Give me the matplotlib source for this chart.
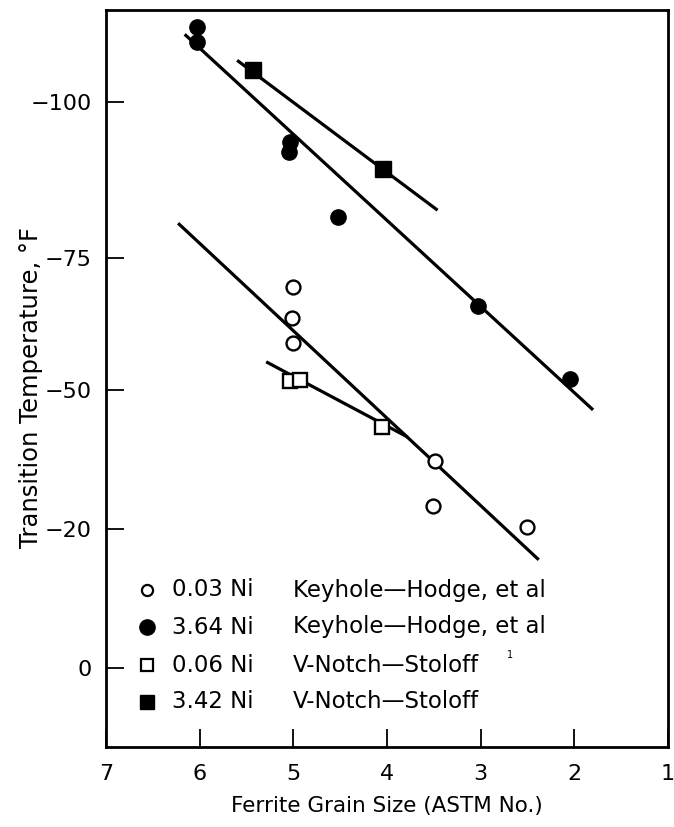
#!/usr/bin/env python3
import matplotlib.pyplot as plt

plt.rcParams['font.family'] = ['DejaVu Sans']

# Ablesewerte (Korngroesse ASTM, Uebergangstemperatur)
ni003_x = [5.0, 5.01, 5.0, 3.49, 3.51, 2.51]
ni003_y = [-67.3, -61.8, -57.4, -36.6, -28.6, -24.9]

ni364_x = [6.03, 6.03, 5.04, 5.05, 4.52, 3.03, 2.05]
ni364_y = [-113.3, -110.6, -92.9, -91.2, -79.7, -64.0, -51.1]

ni006_x = [5.04, 4.93, 4.05]
ni006_y = [-50.7, -50.9, -42.6]

ni342_x = [5.43, 4.04]
ni342_y = [-105.7, -88.2]

# Ausgleichsgeraden (Endpunkte)
fit003_x, fit003_y = [6.23, 2.38], [-78.6, -19.1]
fit364_x, fit364_y = [6.16, 1.80], [-112.0, -45.6]
fit342_x, fit342_y = [5.60, 3.46], [-107.4, -80.9]
fit006_x, fit006_y = [5.29, 3.78], [-54.1, -40.8]

xticks = [7, 6, 5, 4, 3, 2, 1]
# Lage der Teilstriche
yticks = [0, -24.6, -49.1, -72.4, -100]
ylabels = ['0', '\u221220', '\u221250', '\u221275', '\u2212100']

legend_names = ['0.03 Ni', '3.64 Ni', '0.06 Ni', '3.42 Ni']
legend_refs = ['Keyhole\u2014Hodge, et al', 'Keyhole\u2014Hodge, et al',
               'V-Notch\u2014Stoloff', 'V-Notch\u2014Stoloff']

fig = plt.figure(figsize=(6.74, 8.27), dpi=100)
ax = fig.add_axes([106 / 674, 1 - 747 / 827, 562 / 674, 737 / 827])

lw = 2.3
for fx, fy in [(fit003_x, fit003_y), (fit364_x, fit364_y),
               (fit342_x, fit342_y), (fit006_x, fit006_y)]:
    ax.plot(fx, fy, color='black', lw=lw, solid_capstyle='butt')

ax.plot(ni003_x, ni003_y, 'o', ms=10, mfc='white', mec='black', mew=1.7)
ax.plot(ni364_x, ni364_y, 'o', ms=11, mfc='black', mec='black')
ax.plot(ni006_x, ni006_y, 's', ms=9.5, mfc='white', mec='black', mew=1.7)
ax.plot(ni342_x, ni342_y, 's', ms=11, mfc='black', mec='black')

ax.set_xlim(7, 1)
ax.set_ylim(14.0, -116.3)
ax.set_xticks(xticks)
ax.set_yticks(yticks)
ax.set_yticklabels(ylabels)
ax.tick_params(direction='in', length=13, width=1.3, labelsize=16)
ax.tick_params(axis='x', pad=12)
ax.tick_params(axis='y', pad=10)
for s in ax.spines.values():
    s.set_linewidth(2)

ax.set_xlabel('Ferrite Grain Size (ASTM No.)', fontsize=15.5, labelpad=9)
ax.set_ylabel('Transition Temperature, \u00b0F', fontsize=17.5)
ax.yaxis.set_label_coords((43 - 106) / 562, (747 - 388) / 737)

# Legende von Hand
markers = [dict(marker='o', ms=8, mfc='white', mec='black', mew=1.6),
           dict(marker='o', ms=11, mfc='black', mec='black'),
           dict(marker='s', ms=8, mfc='white', mec='black', mew=1.6),
           dict(marker='s', ms=10, mfc='black', mec='black')]
rows_py = [590, 627, 665, 702]
for py, m, name, ref in zip(rows_py, markers, legend_names, legend_refs):
    yy = (747 - py) / 737
    ax.plot([(147 - 106) / 562], [yy], transform=ax.transAxes,
            ls='none', clip_on=False, **m)
    ax.text((172 - 106) / 562, yy, name, transform=ax.transAxes,
            fontsize=16.5, va='center', ha='left')
    ax.text((293 - 106) / 562, yy, ref, transform=ax.transAxes,
            fontsize=16.5, va='center', ha='left')
ax.text((510 - 106) / 562, (747 - 655) / 737, '1', transform=ax.transAxes,
        fontsize=7, va='center', ha='center')

fig.savefig('out.png', dpi=100)
